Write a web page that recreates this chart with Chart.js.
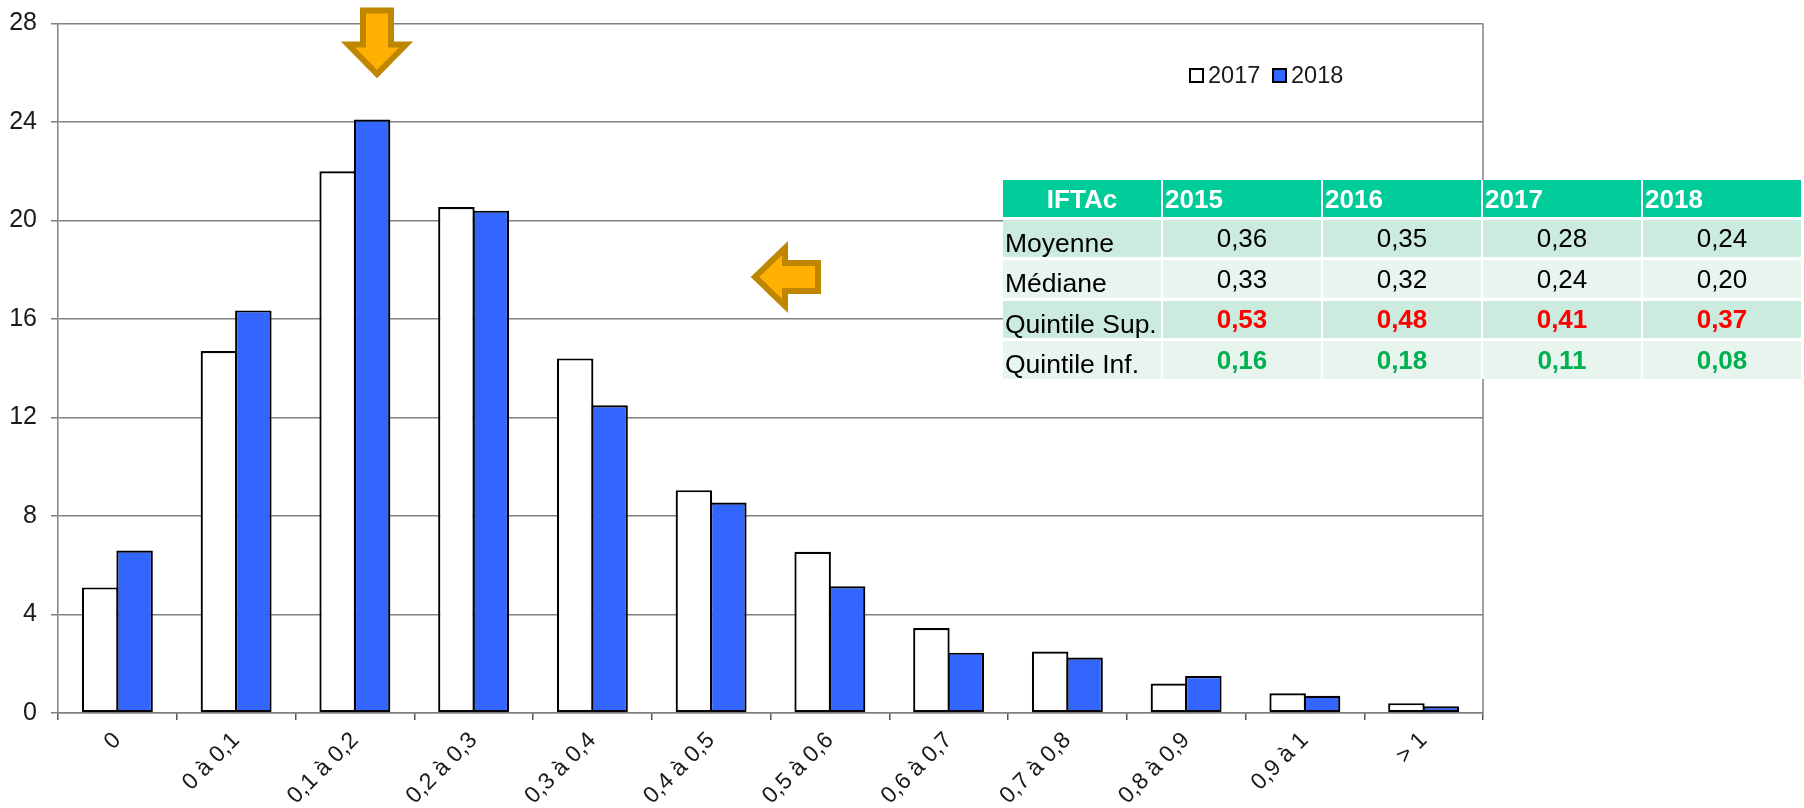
<!DOCTYPE html>
<html lang="fr">
<head>
<meta charset="utf-8">
<title>IFTAc</title>
<script src="https://cdn.jsdelivr.net/npm/chart.js@4"></script>
<style>
html,body{margin:0;padding:0;background:#fff;width:1804px;height:808px;overflow:hidden;font-family:"Liberation Sans",Arial,sans-serif}
#wrap{position:relative;width:1804px;height:808px}
canvas{position:absolute;left:0;top:0}
#arrows{position:absolute;left:0;top:0}
#legend{position:absolute;left:0;top:0;font-size:23.5px;color:#1a1a1a;line-height:26px}
#legend .sw{position:absolute;box-sizing:border-box;width:15px;height:15px;top:68px;border:2.5px solid #000}
#legend .tx{position:absolute;top:62px}
#tbl{position:absolute;left:1003px;top:180px;width:798px;display:grid;background:#fff;
 grid-template-columns:158px 158px 158px 158px 158px;column-gap:2px;
 grid-template-rows:37px 37px 38px 37px 38px;row-gap:3px;font-size:26px;color:#000}
#tbl div{display:flex;align-items:center;white-space:nowrap;overflow:hidden}
#tbl .h{background:#00CC99;color:#fff;font-weight:bold;padding:2px 0 0 2px;height:35px}
#tbl .hc{justify-content:center;padding-left:0}
#tbl .o{background:#CCEBDF}
#tbl .e{background:#E7F5EE}
#tbl .n{justify-content:center;height:100%}
#tbl .l{padding:9px 0 0 2px;height:calc(100% - 9px);font-size:26.5px}
#tbl .up{color:#FF0000;font-weight:bold}
#tbl .dn{color:#00B050;font-weight:bold}
</style>
</head>
<body>
<div id="wrap">
<canvas id="c" width="1804" height="808"></canvas>
<svg id="arrows" width="1804" height="808">
 <polygon points="363,10.5 391,10.5 391,44.5 406,44.5 377,74 348,44.5 363,44.5" fill="#FFB000" stroke="#BF8600" stroke-width="6"/>
 <polygon points="818,263 785,263 785,248 755,277 785,306 785,291 818,291" fill="#FFB000" stroke="#BF8600" stroke-width="6"/>
</svg>
<div id="legend"></div>
<div id="tbl"></div>
</div>
<script>
const categories = ["0","0 à 0,1","0,1 à 0,2","0,2 à 0,3","0,3 à 0,4","0,4 à 0,5","0,5 à 0,6","0,6 à 0,7","0,7 à 0,8","0,8 à 0,9","0,9 à 1","> 1"];
const seriesNames = ["2017","2018"];
const values2017 = [5.1,14.7,22.0,20.55,14.4,9.05,6.55,3.45,2.5,1.2,0.8,0.4];
const values2018 = [6.6,16.35,24.1,20.4,12.5,8.55,5.15,2.45,2.25,1.5,0.7,0.27];
const yTicks = {min:0,max:28,step:4};

const tableHeader = ["IFTAc","2015","2016","2017","2018"];
const rowLabels = ["Moyenne","Médiane","Quintile Sup.","Quintile Inf."];
const rowMoyenne = ["0,36","0,35","0,28","0,24"];
const rowMediane = ["0,33","0,32","0,24","0,20"];
const rowSup = ["0,53","0,48","0,41","0,37"];
const rowInf = ["0,16","0,18","0,11","0,08"];

const AXIS = "#808080", TEXT = "#1a1a1a", BLUE = "#3366FF";

const rightBorder = {
  id:"rightBorder",
  beforeDatasetsDraw(ch){
    const a = ch.chartArea, g = ch.ctx;
    g.save(); g.strokeStyle = AXIS; g.lineWidth = 1.5;
    g.beginPath(); g.moveTo(a.right,a.top); g.lineTo(a.right,a.bottom); g.stroke();
    g.restore();
  }
};

new Chart(document.getElementById("c"),{
  type:"bar",
  data:{labels:categories,datasets:[
    {label:seriesNames[0],data:values2017,backgroundColor:"#FFFFFF",borderColor:"#000",borderWidth:2.2,borderSkipped:false},
    {label:seriesNames[1],data:values2018,backgroundColor:BLUE,borderColor:"#000",borderWidth:2.2,borderSkipped:false}
  ]},
  plugins:[rightBorder],
  options:{
    responsive:false,animation:false,devicePixelRatio:1,
    layout:{padding:{left:0,top:23.5,right:321,bottom:0}},
    plugins:{legend:{display:false},tooltip:{enabled:false}},
    datasets:{bar:{categoryPercentage:0.58,barPercentage:1.06}},
    scales:{
      x:{
        afterFit(s){s.height=95;},
        grid:{drawOnChartArea:false,drawTicks:true,tickLength:7,color:"#555",offset:true,lineWidth:1.5},
        border:{color:AXIS,width:1.5},
        ticks:{color:TEXT,font:{family:"'Liberation Sans'",size:23},maxRotation:45,minRotation:45,autoSkip:false,padding:7}
      },
      y:{
        min:yTicks.min,max:yTicks.max,
        afterFit(s){s.width=58;s.paddingTop=0;s.paddingBottom=0;},
        grid:{color:AXIS,lineWidth:1.5,tickLength:7},
        border:{color:AXIS,width:1.5},
        ticks:{stepSize:yTicks.step,color:TEXT,font:{family:"'Liberation Sans'",size:25},padding:14}
      }
    }
  }
});

// Legend
const lg = document.getElementById("legend");
const swX = [1189,1272], txX = [1208,1291], swC = ["#fff",BLUE];
seriesNames.forEach((n,i)=>{
  const s=document.createElement("div"); s.className="sw"; s.style.left=swX[i]+"px"; s.style.background=swC[i]; lg.appendChild(s);
  const t=document.createElement("div"); t.className="tx"; t.style.left=txX[i]+"px"; t.textContent=n; lg.appendChild(t);
});

// Table
const tbl = document.getElementById("tbl");
function cell(txt,cls){const d=document.createElement("div");d.className=cls;d.textContent=txt;tbl.appendChild(d);}
tableHeader.forEach((h,i)=>cell(h,i===0?"h hc":"h"));
[[rowMoyenne,""],[rowMediane,""],[rowSup,"up"],[rowInf,"dn"]].forEach(([r,c],i)=>{
  const bg=i%2===0?"o":"e";
  cell(rowLabels[i],bg+" l");
  r.forEach(v=>cell(v,bg+" n "+c));
});
</script>
</body>
</html>
